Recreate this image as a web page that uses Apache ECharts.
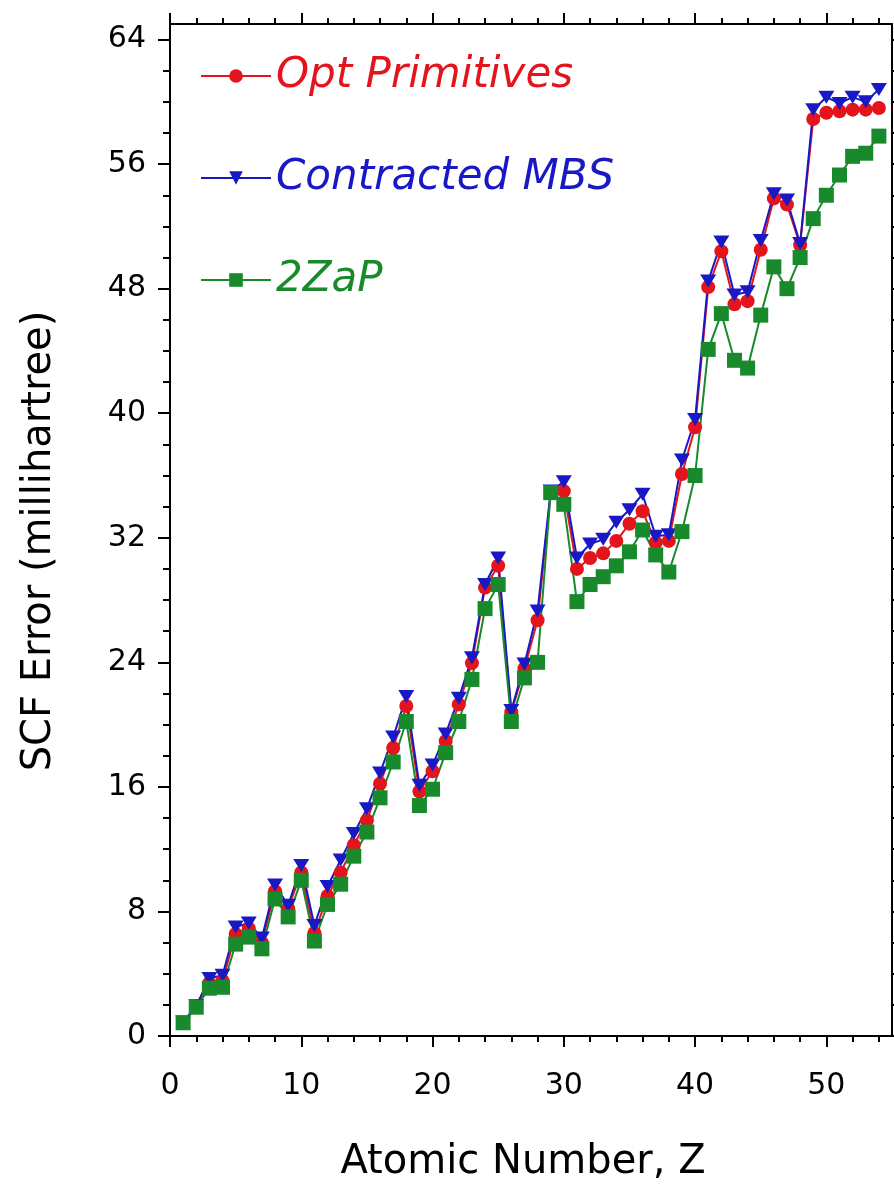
<!DOCTYPE html>
<html><head><meta charset="utf-8">
<script src="https://cdn.jsdelivr.net/npm/echarts@6/dist/echarts.min.js"></script>
<style>html,body{margin:0;padding:0;background:#fff}#c{width:894px;height:1203px}</style>
</head><body><div id="c"></div>
<script>
const atomicNumbers = [1,2,3,4,5,6,7,8,9,10,11,12,13,14,15,16,17,18,19,20,21,22,23,24,25,26,27,28,29,30,31,32,33,34,35,36,37,38,39,40,41,42,43,44,45,46,47,48,49,50,51,52,53,54];
const optPrimitives = [0.85,1.9,3.4,3.55,6.55,6.9,6.0,9.3,8.2,10.5,6.6,9.0,10.5,12.25,13.85,16.2,18.5,21.2,15.7,17.0,18.95,21.3,23.95,28.8,30.2,20.8,23.6,26.7,34.9,35.0,30.0,30.7,31.0,31.8,32.9,33.7,31.7,31.8,36.1,39.1,48.1,50.4,47.0,47.2,50.5,53.8,53.4,50.8,58.9,59.3,59.4,59.5,59.5,59.6];
const contractedMBS = [0.9,1.95,3.7,3.9,7.0,7.25,6.3,9.7,8.4,10.95,7.1,9.6,11.3,13.0,14.6,16.9,19.2,21.8,16.1,17.4,19.4,21.7,24.3,29.0,30.7,20.9,23.9,27.3,35.0,35.6,30.7,31.6,31.9,33.0,33.8,34.8,32.1,32.2,37.0,39.6,48.5,51.0,47.6,47.8,51.1,54.1,53.7,50.9,59.5,60.3,59.9,60.3,60.0,60.8];
const twoZaP = [0.85,1.85,3.07,3.13,5.9,6.35,5.6,8.8,7.65,10.0,6.1,8.45,9.75,11.55,13.1,15.3,17.6,20.2,14.8,15.85,18.2,20.2,22.9,27.45,29.0,20.2,23.0,24.0,34.9,34.15,27.9,29.0,29.5,30.2,31.1,32.5,30.9,29.8,32.4,36.0,44.1,46.4,43.4,42.9,46.3,49.4,48.0,50.0,52.5,54.0,55.3,56.5,56.7,57.8];
const seriesNames = ['Opt Primitives', 'Contracted MBS', '2ZaP'];
const xMajorTicks = [0,10,20,30,40,50];
const xMinorTicks = [2,4,6,8,12,14,16,18,22,24,26,28,32,34,36,38,42,44,46,48,52,54];
const yMajorTicks = [0,8,16,24,32,40,48,56,64];
const yMinorTicks = [2,4,6,10,12,14,18,20,22,26,28,30,34,36,38,42,44,46,50,52,54,58,60,62];
const xTitle = 'Atomic Number, Z';
const yTitle = 'SCF Error (millihartree)';

const RED = '#e3141c', BLUE = '#1818c4', GREEN = '#188a2c';
const FONT = 'DejaVu Sans';
const gridRect = {left: 170, right: 2, top: 24, bottom: 167};

function pairs(vals) { return atomicNumbers.map((z, i) => [z, vals[i]]); }

function xAx(grid, pos, ticks, len, showLine, labels) {
  return {
    type: 'value', gridIndex: grid, position: pos, min: 0, max: 55,
    axisLine: {show: showLine, onZero: false, lineStyle: {color: '#000', width: 2}},
    axisTick: {show: true, inside: false, length: len, customValues: ticks, lineStyle: {color: '#000', width: 2}},
    axisLabel: labels ? {show: true, customValues: ticks, margin: 35, fontFamily: FONT, fontSize: 30, color: '#000'} : {show: false},
    splitLine: {show: false}
  };
}
function yAx(grid, pos, ticks, len, showLine, labels) {
  return {
    type: 'value', gridIndex: grid, position: pos, min: 0, max: 65,
    axisLine: {show: showLine, onZero: false, lineStyle: {color: '#000', width: 2}},
    axisTick: {show: true, inside: false, length: len, customValues: ticks, lineStyle: {color: '#000', width: 2}},
    axisLabel: labels ? {show: true, customValues: ticks, margin: 24, fontFamily: FONT, fontSize: 30, color: '#000'} : {show: false},
    splitLine: {show: false}
  };
}

const chart = echarts.init(document.getElementById('c'), null, {renderer: 'canvas'});
chart.setOption({
  backgroundColor: '#ffffff',
  animation: false,
  grid: [Object.assign({}, gridRect), Object.assign({}, gridRect)],
  xAxis: [
    xAx(0, 'bottom', xMajorTicks, 11, true, true),
    xAx(0, 'top', xMajorTicks, 11, true, false),
    xAx(1, 'bottom', xMinorTicks, 6, false, false),
    xAx(1, 'top', xMinorTicks, 6, false, false)
  ],
  yAxis: [
    yAx(0, 'left', yMajorTicks, 12, true, true),
    yAx(0, 'right', yMajorTicks, 12, true, false),
    yAx(1, 'left', yMinorTicks, 7, false, false),
    yAx(1, 'right', yMinorTicks, 7, false, false)
  ],
  legend: {
    orient: 'vertical', left: 195, top: 50, itemWidth: 70, itemHeight: 17, itemGap: 60,
    selectedMode: false,
    textStyle: {fontFamily: FONT, fontSize: 42, fontStyle: 'italic', lineHeight: 42},
    data: [
      {name: seriesNames[0], textStyle: {color: RED}},
      {name: seriesNames[1], textStyle: {color: BLUE}},
      {name: seriesNames[2], textStyle: {color: GREEN}}
    ]
  },
  graphic: [
    {type: 'text', x: 523, y: 1163, style: {text: xTitle, fontFamily: FONT, fontSize: 40, fill: '#000', align: 'center', verticalAlign: 'middle'}},
    {type: 'text', x: 40, y: 541, rotation: Math.PI / 2, style: {text: yTitle, fontFamily: FONT, fontSize: 40, fill: '#000', align: 'center', verticalAlign: 'middle'}}
  ],
  series: [
    {name: seriesNames[0], type: 'line', xAxisIndex: 0, yAxisIndex: 0, data: pairs(optPrimitives),
     symbol: 'circle', symbolSize: 14, lineStyle: {color: RED, width: 2}, itemStyle: {color: RED}},
    {name: seriesNames[1], type: 'line', xAxisIndex: 0, yAxisIndex: 0, data: pairs(contractedMBS),
     symbol: 'triangle', symbolRotate: 180, symbolSize: [16, 13], lineStyle: {color: BLUE, width: 2}, itemStyle: {color: BLUE}},
    {name: seriesNames[2], type: 'line', xAxisIndex: 0, yAxisIndex: 0, data: pairs(twoZaP),
     symbol: 'rect', symbolSize: 15, lineStyle: {color: GREEN, width: 2}, itemStyle: {color: GREEN}}
  ]
});
</script></body></html>
